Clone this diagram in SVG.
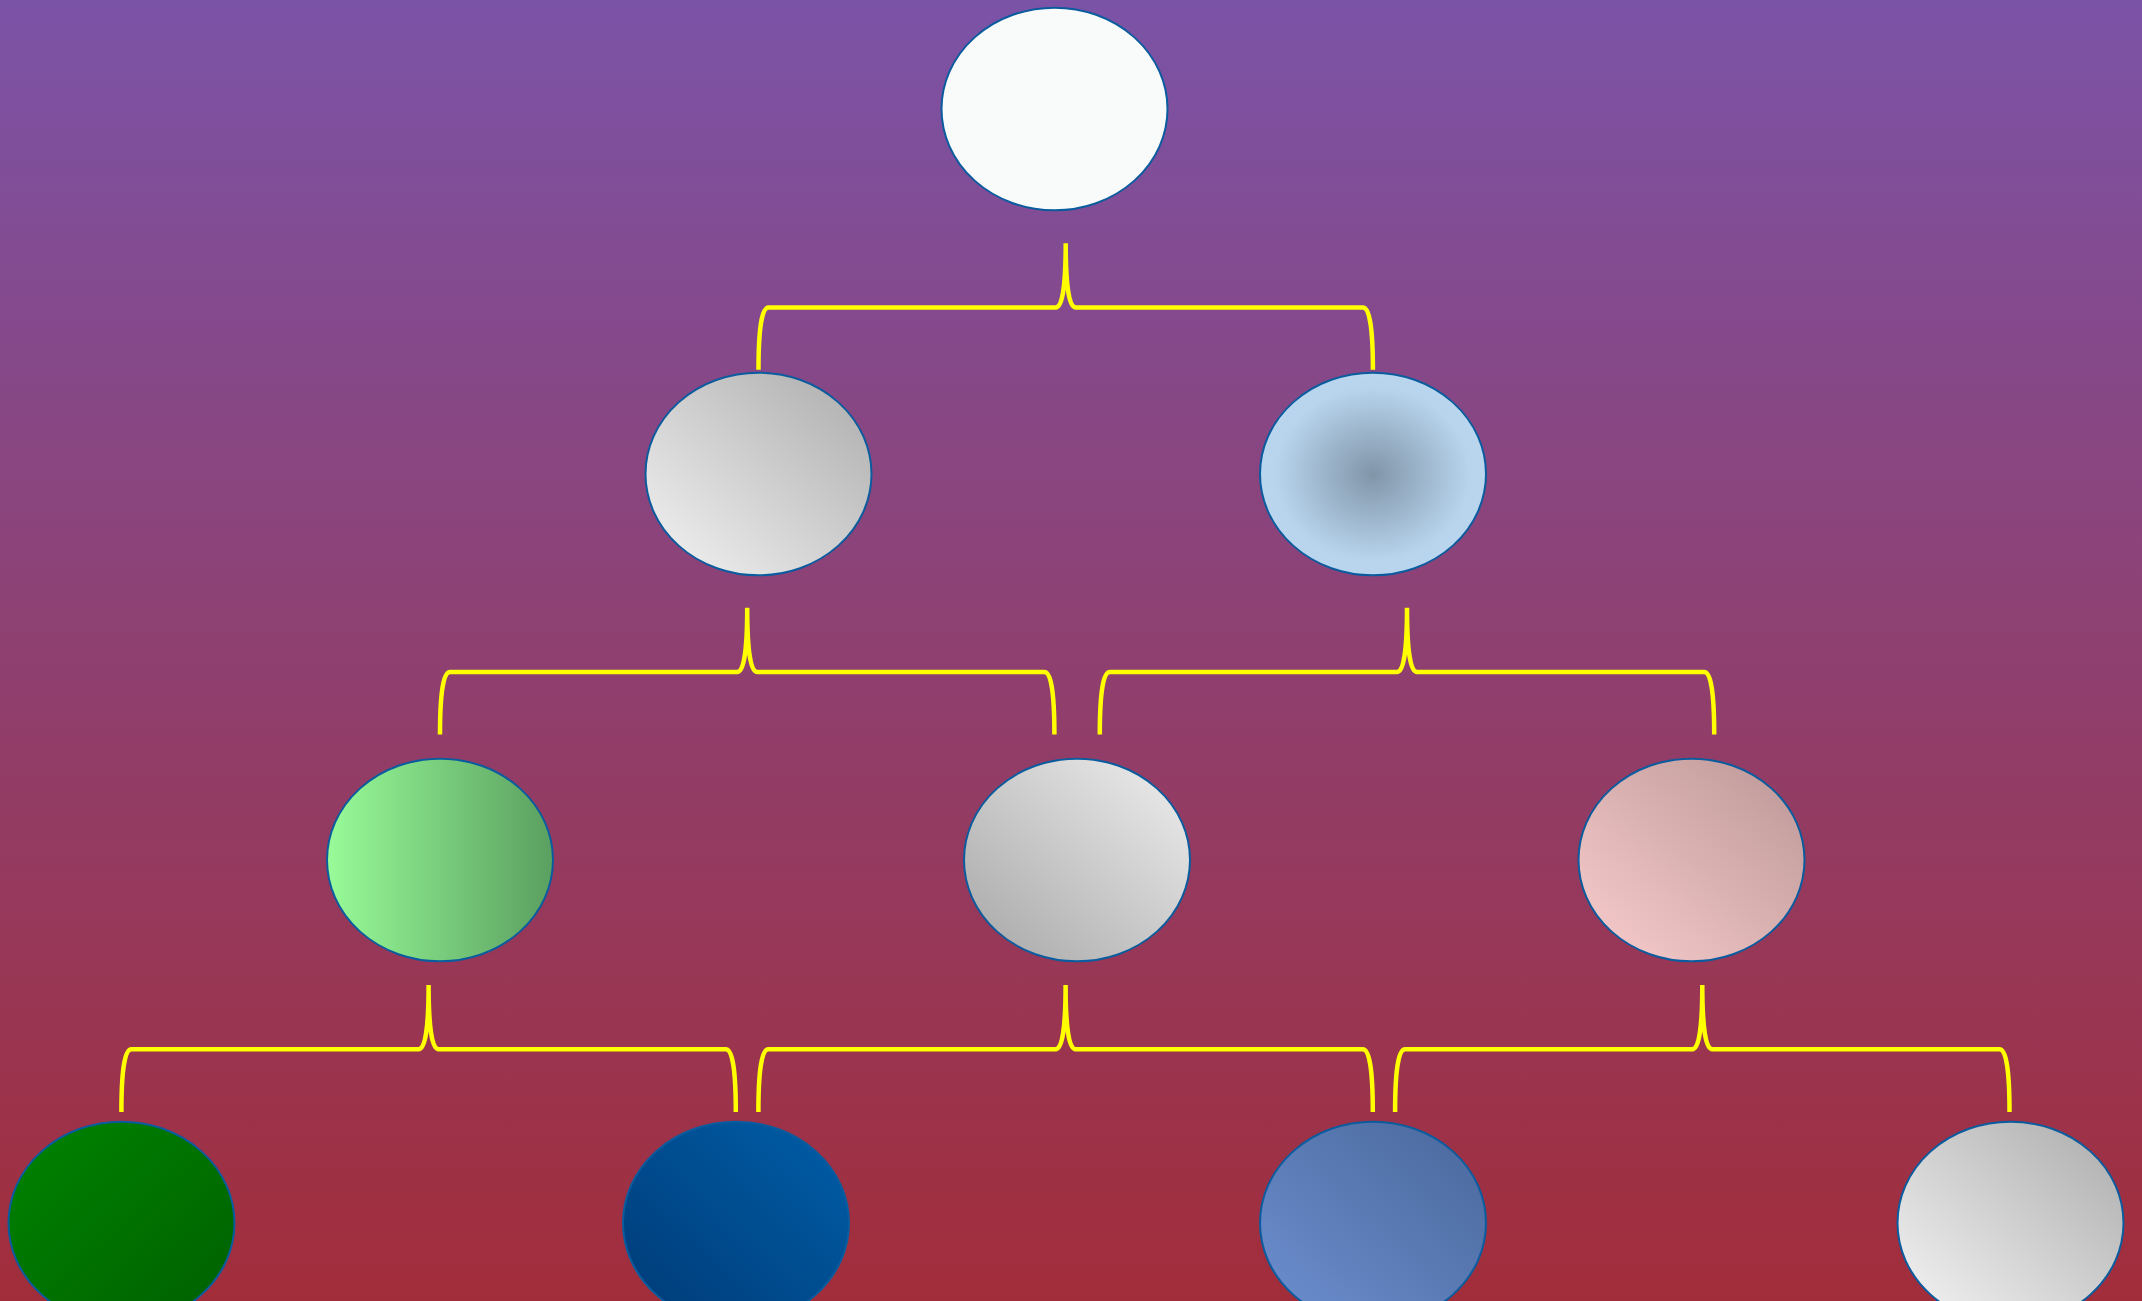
<svg xmlns="http://www.w3.org/2000/svg" width="2142" height="1301" viewBox="0 0 2142 1301">
<defs>
<linearGradient id="bg" x1="0" y1="0" x2="0" y2="1">
<stop offset="0" stop-color="#7B53A7"/>
<stop offset="1" stop-color="#A22D3A"/>
</linearGradient>
<linearGradient id="gA" x1="0" y1="1" x2="1" y2="0">
<stop offset="0" stop-color="#F4F4F4"/>
<stop offset="1" stop-color="#ABABAB"/>
</linearGradient>
<radialGradient id="gB" cx="0.5" cy="0.5" r="0.5">
<stop offset="0" stop-color="#8195A9"/>
<stop offset="0.85" stop-color="#B7D4EC"/>
<stop offset="1" stop-color="#B9D6EE"/>
</radialGradient>
<linearGradient id="gC" x1="0" y1="0" x2="1" y2="0">
<stop offset="0" stop-color="#98FB98"/>
<stop offset="1" stop-color="#5A9F60"/>
</linearGradient>
<linearGradient id="gD" x1="0" y1="1" x2="1" y2="0">
<stop offset="0" stop-color="#A6A6A6"/>
<stop offset="1" stop-color="#EFEFEF"/>
</linearGradient>
<linearGradient id="gE" x1="0" y1="1" x2="1" y2="0">
<stop offset="0" stop-color="#FACDCD"/>
<stop offset="1" stop-color="#BB9696"/>
</linearGradient>
<linearGradient id="gF" x1="0" y1="0" x2="1" y2="1">
<stop offset="0" stop-color="#008400"/>
<stop offset="1" stop-color="#005F00"/>
</linearGradient>
<linearGradient id="gG" x1="0" y1="1" x2="1" y2="0">
<stop offset="0" stop-color="#003A76"/>
<stop offset="1" stop-color="#005EA8"/>
</linearGradient>
<linearGradient id="gH" x1="0" y1="1" x2="1" y2="0">
<stop offset="0" stop-color="#6E8FD0"/>
<stop offset="1" stop-color="#48679B"/>
</linearGradient>
<linearGradient id="gI" x1="0" y1="1" x2="1" y2="0">
<stop offset="0" stop-color="#F6F6F6"/>
<stop offset="1" stop-color="#ABABAB"/>
</linearGradient>
</defs>
<style>
.node ellipse { stroke: #0A5C9E; stroke-width: 2; }
.conn path { fill: none; stroke: #FFFF00; stroke-width: 4.5; stroke-linejoin: round; stroke-linecap: butt; }
</style>
<rect x="0" y="0" width="2142" height="1301" fill="url(#bg)"/>
<g id="connectors" class="conn">
<path d="M1065.7,243.3 Q1065.7,307.5 1055.7,307.5 L768.5,307.5 Q758.5,307.5 758.5,369.8 M1065.7,243.3 Q1065.7,307.5 1075.7,307.5 L1362.9,307.5 Q1372.9,307.5 1372.9,369.8"/>
<path d="M747.2,607.7 Q747.2,671.9 737.2,671.9 L450,671.9 Q440,671.9 440,734.5 M747.2,607.7 Q747.2,671.9 757.2,671.9 L1044.4,671.9 Q1054.4,671.9 1054.4,734.5"/>
<path d="M1407,607.7 Q1407,671.9 1397,671.9 L1109.8,671.9 Q1099.8,671.9 1099.8,734.5 M1407,607.7 Q1407,671.9 1417,671.9 L1704.2,671.9 Q1714.2,671.9 1714.2,734.5"/>
<path d="M428.6,985 Q428.6,1049.2 418.6,1049.2 L131.4,1049.2 Q121.4,1049.2 121.4,1112 M428.6,985 Q428.6,1049.2 438.6,1049.2 L725.8,1049.2 Q735.8,1049.2 735.8,1112"/>
<path d="M1065.6,985 Q1065.6,1049.2 1055.6,1049.2 L768.4,1049.2 Q758.4,1049.2 758.4,1112 M1065.6,985 Q1065.6,1049.2 1075.6,1049.2 L1362.8,1049.2 Q1372.8,1049.2 1372.8,1112"/>
<path d="M1702.3,985 Q1702.3,1049.2 1692.3,1049.2 L1405.1,1049.2 Q1395.1,1049.2 1395.1,1112 M1702.3,985 Q1702.3,1049.2 1712.3,1049.2 L1999.5,1049.2 Q2009.5,1049.2 2009.5,1112"/>
</g>
<g id="node-root" class="node"><ellipse cx="1054.5" cy="109" rx="113" ry="101.3" fill="#F9FAFA"/></g>
<g id="node-a" class="node"><ellipse cx="758.5" cy="474" rx="113" ry="101.3" fill="url(#gA)"/></g>
<g id="node-b" class="node"><ellipse cx="1373" cy="474" rx="113" ry="101.3" fill="url(#gB)"/></g>
<g id="node-c" class="node"><ellipse cx="440" cy="860" rx="113" ry="101.3" fill="url(#gC)"/></g>
<g id="node-d" class="node"><ellipse cx="1077" cy="860" rx="113" ry="101.3" fill="url(#gD)"/></g>
<g id="node-e" class="node"><ellipse cx="1691.5" cy="860" rx="113" ry="101.3" fill="url(#gE)"/></g>
<g id="node-f" class="node"><ellipse cx="121.5" cy="1223" rx="113" ry="101.3" fill="url(#gF)"/></g>
<g id="node-g" class="node"><ellipse cx="736" cy="1223" rx="113" ry="101.3" fill="url(#gG)"/></g>
<g id="node-h" class="node"><ellipse cx="1373" cy="1223" rx="113" ry="101.3" fill="url(#gH)"/></g>
<g id="node-i" class="node"><ellipse cx="2010.5" cy="1223" rx="113" ry="101.3" fill="url(#gI)"/></g>
</svg>
